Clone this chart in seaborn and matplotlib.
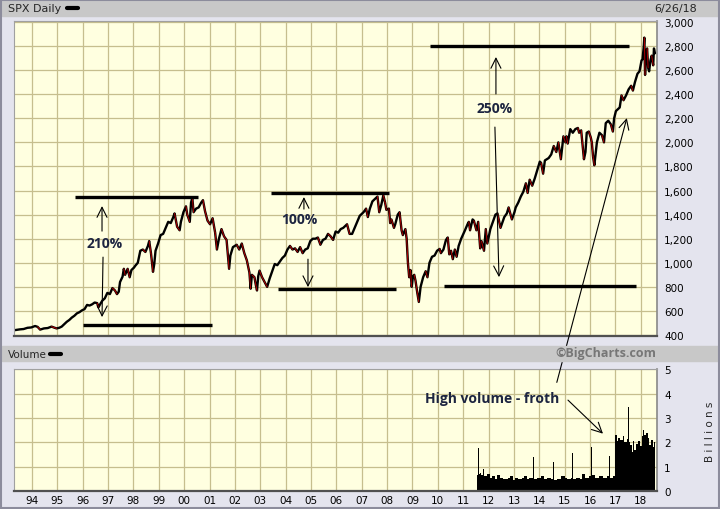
import matplotlib
matplotlib.use("Agg")
import matplotlib.pyplot as plt
import numpy as np
import seaborn as sns
from matplotlib.patches import Rectangle
from matplotlib.lines import Line2D

# SPX closes (decimal years on the chart's own axis)
price_dates = [
    1993.30, 1993.52, 1993.67, 1993.82, 1993.97, 1994.12, 1994.22, 1994.32, 1994.47, 1994.62,
    1994.77, 1994.87, 1994.97, 1995.07, 1995.17, 1995.27, 1995.37, 1995.47, 1995.57, 1995.67,
    1995.77, 1995.87, 1995.97, 1996.07, 1996.17, 1996.27, 1996.37, 1996.47, 1996.57, 1996.62,
    1996.67, 1996.77, 1996.87, 1996.97, 1997.07, 1997.17, 1997.27, 1997.35, 1997.42, 1997.47,
    1997.57, 1997.62, 1997.67, 1997.77, 1997.85, 1997.92, 1998.02, 1998.07, 1998.17, 1998.27,
    1998.37, 1998.47, 1998.57, 1998.62, 1998.69, 1998.77, 1998.82, 1998.87, 1998.97, 1999.07,
    1999.17, 1999.27, 1999.37, 1999.47, 1999.57, 1999.62, 1999.72, 1999.82, 1999.87, 1999.97,
    2000.07, 2000.12, 2000.22, 2000.27, 2000.32, 2000.37, 2000.47, 2000.57, 2000.67, 2000.74,
    2000.82, 2000.92, 2001.02, 2001.12, 2001.22, 2001.29, 2001.37, 2001.47, 2001.57, 2001.67,
    2001.77, 2001.82, 2001.92, 2002.07, 2002.17, 2002.27, 2002.37, 2002.47, 2002.57, 2002.62,
    2002.67, 2002.77, 2002.82, 2002.87, 2002.92, 2002.97, 2003.07, 2003.17, 2003.27, 2003.37,
    2003.47, 2003.57, 2003.67, 2003.77, 2003.87, 2003.97, 2004.07, 2004.17, 2004.27, 2004.37,
    2004.47, 2004.57, 2004.67, 2004.77, 2004.87, 2004.97, 2005.07, 2005.17, 2005.27, 2005.37,
    2005.47, 2005.57, 2005.67, 2005.77, 2005.87, 2005.97, 2006.07, 2006.17, 2006.27, 2006.37,
    2006.42, 2006.52, 2006.62, 2006.72, 2006.82, 2006.92, 2007.07, 2007.17, 2007.24, 2007.32,
    2007.42, 2007.52, 2007.62, 2007.69, 2007.77, 2007.85, 2007.92, 2007.97, 2008.07, 2008.12,
    2008.17, 2008.27, 2008.32, 2008.42, 2008.49, 2008.57, 2008.62, 2008.72, 2008.77, 2008.82,
    2008.87, 2008.92, 2008.97, 2009.02, 2009.07, 2009.12, 2009.19, 2009.25, 2009.32, 2009.42,
    2009.52, 2009.59, 2009.67, 2009.77, 2009.87, 2009.97, 2010.07, 2010.12, 2010.22, 2010.32,
    2010.39, 2010.45, 2010.52, 2010.59, 2010.67, 2010.74, 2010.82, 2010.92, 2011.07, 2011.17,
    2011.22, 2011.27, 2011.37, 2011.42, 2011.52, 2011.59, 2011.67, 2011.72, 2011.82, 2011.89,
    2011.95, 2012.07, 2012.17, 2012.27, 2012.35, 2012.47, 2012.52, 2012.62, 2012.72, 2012.79,
    2012.92, 2013.02, 2013.07, 2013.17, 2013.27, 2013.37, 2013.47, 2013.54, 2013.62, 2013.72,
    2013.82, 2013.92, 2014.02, 2014.07, 2014.15, 2014.22, 2014.37, 2014.47, 2014.57, 2014.67,
    2014.75, 2014.85, 2014.95, 2015.03, 2015.07, 2015.12, 2015.22, 2015.32, 2015.42, 2015.52,
    2015.57, 2015.65, 2015.76, 2015.82, 2015.87, 2015.95, 2016.03, 2016.07, 2016.12, 2016.17,
    2016.27, 2016.37, 2016.47, 2016.55, 2016.62, 2016.72, 2016.82, 2016.90, 2016.95, 2017.02,
    2017.07, 2017.17, 2017.24, 2017.32, 2017.42, 2017.52, 2017.62, 2017.69, 2017.77, 2017.87,
    2017.95, 2018.03, 2018.07, 2018.12, 2018.14, 2018.17, 2018.21, 2018.25, 2018.29, 2018.33,
    2018.38, 2018.43, 2018.49, 2018.52, 2018.56,
]
price_close = [
    440, 447, 450, 460, 463, 475, 468, 445, 455, 458,
    470, 462, 455, 460, 470, 490, 510, 525, 545, 560,
    580, 590, 605, 615, 650, 645, 655, 670, 665, 630,
    650, 685, 705, 750, 740, 790, 770, 740, 760, 840,
    885, 950, 900, 950, 880, 940, 960, 975, 1000, 1100,
    1110, 1090, 1140, 1180, 1080, 925, 990, 1100, 1160, 1230,
    1240, 1290, 1340, 1330, 1380, 1410, 1300, 1270, 1340, 1420,
    1469, 1400, 1340, 1500, 1540, 1420, 1450, 1460, 1500, 1520,
    1430, 1350, 1320, 1370, 1250, 1110, 1200, 1280, 1220, 1190,
    950, 1060, 1130, 1150, 1110, 1160, 1080, 1020, 920, 785,
    900, 880, 820, 770, 890, 935, 880, 840, 800, 870,
    930, 990, 980, 1010, 1040, 1060, 1110, 1140, 1110, 1120,
    1090, 1130, 1080, 1110, 1120, 1180, 1200, 1200, 1210, 1150,
    1190, 1200, 1240, 1220, 1190, 1260, 1250, 1280, 1290, 1310,
    1320, 1240, 1240, 1290, 1340, 1390, 1420, 1450, 1380, 1450,
    1510, 1530, 1550, 1420, 1480, 1560, 1500, 1440, 1450, 1330,
    1360, 1290, 1320, 1400, 1420, 1270, 1230, 1280, 1200, 1000,
    880, 940, 800, 890, 900, 850, 750, 675, 800, 880,
    930, 880, 1000, 1050, 1060, 1100, 1115, 1080, 1110, 1190,
    1210, 1070, 1100, 1030, 1110, 1050, 1140, 1200, 1270, 1320,
    1340, 1270, 1360, 1350, 1270, 1340, 1120, 1180, 1100, 1280,
    1160, 1280, 1340, 1400, 1410, 1290, 1320, 1380, 1410, 1460,
    1360, 1420, 1460, 1500, 1550, 1590, 1660, 1580, 1690, 1640,
    1700, 1770, 1840, 1830, 1740, 1850, 1870, 1900, 1970, 1920,
    2000, 1860, 2050, 2000, 2050, 1990, 2110, 2080, 2110, 2120,
    2080, 2100, 1860, 1920, 2080, 2090, 2040, 2000, 1880, 1810,
    2000, 2080, 2060, 2000, 2160, 2180, 2150, 2090, 2200, 2260,
    2270, 2290, 2390, 2350, 2390, 2440, 2470, 2430, 2500, 2570,
    2590, 2680, 2690, 2800, 2870, 2560, 2750, 2780, 2620, 2590,
    2680, 2720, 2640, 2780, 2740,
]

# daily volume in billions (step outline of the histogram)
vol_dates = [
    2011.55, 2011.60, 2011.61, 2011.65, 2011.70, 2011.71, 2011.78, 2011.80, 2011.85, 2011.86,
    2011.95, 2012.05, 2012.15, 2012.25, 2012.35, 2012.45, 2012.55, 2012.60, 2012.61, 2012.75,
    2012.85, 2012.95, 2013.05, 2013.15, 2013.30, 2013.40, 2013.50, 2013.60, 2013.76, 2013.78,
    2013.90, 2014.05, 2014.20, 2014.30, 2014.45, 2014.54, 2014.55, 2014.57, 2014.70, 2014.85,
    2015.00, 2015.10, 2015.25, 2015.30, 2015.32, 2015.45, 2015.60, 2015.70, 2015.80, 2015.95,
    2016.05, 2016.07, 2016.20, 2016.35, 2016.50, 2016.65, 2016.75, 2016.77, 2016.90, 2017.00,
    2017.05, 2017.12, 2017.20, 2017.28, 2017.35, 2017.45, 2017.50, 2017.52, 2017.58, 2017.65,
    2017.70, 2017.75, 2017.82, 2017.90, 2017.97, 2018.05, 2018.10, 2018.12, 2018.20, 2018.22,
    2018.28, 2018.33, 2018.40, 2018.47, 2018.52, 2018.56,
]
vol_billions = [
    0.65, 1.75, 0.70, 0.75, 1.05, 0.65, 0.90, 0.60, 1.00, 0.60,
    0.70, 0.55, 0.60, 0.50, 0.65, 0.55, 0.50, 0.95, 0.50, 0.55,
    0.60, 0.45, 0.55, 0.50, 0.55, 0.60, 0.50, 0.55, 1.38, 0.50,
    0.55, 0.60, 0.50, 0.55, 0.50, 0.05, 1.18, 0.45, 0.50, 0.60,
    0.55, 0.50, 0.55, 1.55, 0.50, 0.55, 0.50, 0.70, 0.55, 0.60,
    1.83, 0.65, 0.55, 0.60, 0.55, 0.60, 1.42, 0.55, 0.60, 2.30,
    2.05, 2.20, 2.10, 2.25, 2.00, 2.15, 3.45, 2.00, 1.90, 1.60,
    2.05, 1.70, 1.95, 2.05, 1.85, 2.25, 2.50, 2.30, 3.45, 2.40,
    2.20, 1.90, 2.10, 1.80, 2.00, 2.00,
]

year_ticks = list(range(1994, 2019))
year_labels = [f"{y % 100:02d}" for y in year_ticks]
price_ticks = list(range(400, 3001, 200))
vol_ticks = [0, 1, 2, 3, 4, 5]

# drawn-on annotation levels
level_y = [1548, 485, 1579, 781, 2801, 806]
level_start = [1995.69, 1996.00, 2003.43, 2003.70, 2009.69, 2010.24]
level_end = [2000.54, 2001.09, 2008.08, 2008.35, 2017.53, 2017.81]
pct_labels = ["210%", "100%", "250%"]

sns.set_style("white")
plt.rcParams['font.family'] = ['DejaVu Sans']

BG = '#E4E4EE'
PLOT_BG = '#FFFFE0'
GRID = '#C6BE8E'
NAVY = '#1C2440'
ann_font = ['Open Sans', 'DejaVu Sans']

fig = plt.figure(figsize=(7.2, 5.1), dpi=100, facecolor=BG)
ax1 = fig.add_axes([14 / 720, 1 - 337 / 510, 643 / 720, 315 / 510])
ax2 = fig.add_axes([14 / 720, 1 - 492 / 510, 643 / 720, 122 / 510])

# header bands
fig.patches.append(Rectangle((0.003, 1 - 17 / 510), 0.997, 16 / 510,
                             transform=fig.transFigure, color='#C8C8C8', zorder=0))
fig.patches.append(Rectangle((0.003, 1 - 362 / 510), 0.997, 15 / 510,
                             transform=fig.transFigure, color='#C8C8C8', zorder=0))
fig.patches.append(Rectangle((0.001, 0.002), 0.997, 0.996, transform=fig.transFigure,
                             fill=False, edgecolor='#8C8C9C', lw=1.5, zorder=5))

for ax in (ax1, ax2):
    ax.set_facecolor(PLOT_BG)
    ax.set_xlim(1993.29, 2018.64)
    ax.set_xticks(year_ticks)
    ax.grid(True, color=GRID, lw=0.9)
    ax.set_axisbelow(True)
    for s in ax.spines.values():
        s.set_color('#A0A0A0')
        s.set_linewidth(0.8)
    ax.spines['bottom'].set_color('#505050')
    ax.spines['bottom'].set_linewidth(1.6)
    ax.spines['right'].set_color('#888888')
    ax.spines['right'].set_linewidth(1.2)
    ax.yaxis.tick_right()
    ax.tick_params(axis='both', length=0, labelsize=7.5, colors='black')
    ax.tick_params(axis='y', pad=5)
    ax.tick_params(axis='x', pad=3)

# price panel
sns.lineplot(x=price_dates, y=price_close, ax=ax1, color='black', lw=1.7, sort=False)
pd_arr = np.array(price_dates)
pc_arr = np.array(price_close)
for i in range(len(pc_arr) - 1):
    if pc_arr[i + 1] < pc_arr[i] * 0.985:
        ax1.plot(pd_arr[i:i + 2], pc_arr[i:i + 2], color='#B00000', lw=0.7)
ax1.set_ylim(392, 3008)
ax1.set_yticks(price_ticks)
ax1.set_yticklabels([f"{v:,}" for v in price_ticks])
ax1.tick_params(axis='x', labelbottom=False)
ax1.set_xlabel('')
ax1.set_ylabel('')

ax1.hlines(level_y, level_start, level_end, color='black', lw=2.4)

arrow_kw = dict(arrowstyle='->', color='black', lw=0.8, mutation_scale=18,
                shrinkA=0, shrinkB=0)
# 210%
ax1.annotate('', xy=(1996.76, 1471), xytext=(1996.76, 1263), arrowprops=arrow_kw)
ax1.annotate('', xy=(1996.76, 549), xytext=(1996.80, 1047), arrowprops=arrow_kw)
ax1.text(1996.88, 1163, pct_labels[0], ha='center', va='center', fontsize=10,
         weight='bold', color=NAVY, family=ann_font)
# 100%
ax1.annotate('', xy=(2004.72, 1546), xytext=(2004.72, 1446), arrowprops=arrow_kw)
ax1.annotate('', xy=(2004.88, 798), xytext=(2004.88, 1030), arrowprops=arrow_kw)
ax1.text(2004.52, 1363, pct_labels[1], ha='center', va='center', fontsize=10,
         weight='bold', color=NAVY, family=ann_font)
# 250%
ax1.annotate('', xy=(2012.29, 2709), xytext=(2012.29, 2402), arrowprops=arrow_kw)
ax1.annotate('', xy=(2012.41, 881), xytext=(2012.25, 2127), arrowprops=arrow_kw)
ax1.text(2012.25, 2285, pct_labels[2], ha='center', va='center', fontsize=10,
         weight='bold', color=NAVY, family=ann_font)

# volume panel
ax2.fill_between(vol_dates, vol_billions, step='post', color='black', lw=0)
ax2.set_ylim(0, 5.02)
ax2.set_yticks(vol_ticks)
ax2.set_yticklabels([str(v) for v in vol_ticks])
ax2.set_xticklabels(year_labels)

ax2.text(2009.49, 3.82, 'High volume - froth', ha='left', va='center', fontsize=10,
         weight='bold', color=NAVY, family=ann_font)
ax2.annotate('', xy=(2016.51, 2.36), xytext=(2015.13, 3.74), arrowprops=arrow_kw)
ax2.annotate('', xy=(2017.45, 2202), xycoords=ax1.transData,
             xytext=(2014.69, 4.47), textcoords='data',
             arrowprops=arrow_kw, annotation_clip=False)

# header texts
fig.text(8 / 720, 1 - 9 / 510, 'SPX Daily', ha='left', va='center', fontsize=8)
fig.add_artist(Line2D([67 / 720, 78 / 720], [1 - 8.5 / 510] * 2, color='black', lw=3))
fig.text(697 / 720, 1 - 9 / 510, '6/26/18', ha='right', va='center', fontsize=8)
fig.text(8 / 720, 1 - 355 / 510, 'Volume', ha='left', va='center', fontsize=7.5)
fig.add_artist(Line2D([50 / 720, 61 / 720], [1 - 354.5 / 510] * 2, color='black', lw=3))
fig.text(656 / 720, 1 - 354 / 510, '©BigCharts.com', ha='right', va='center',
         fontsize=9, weight='bold', color='#777777', family=ann_font)
fig.text(710 / 720, 1 - 432 / 510, 'B i l l i o n s', ha='center', va='center',
         rotation=90, fontsize=7.5)

fig.savefig('out.png', dpi=100, facecolor=BG)
